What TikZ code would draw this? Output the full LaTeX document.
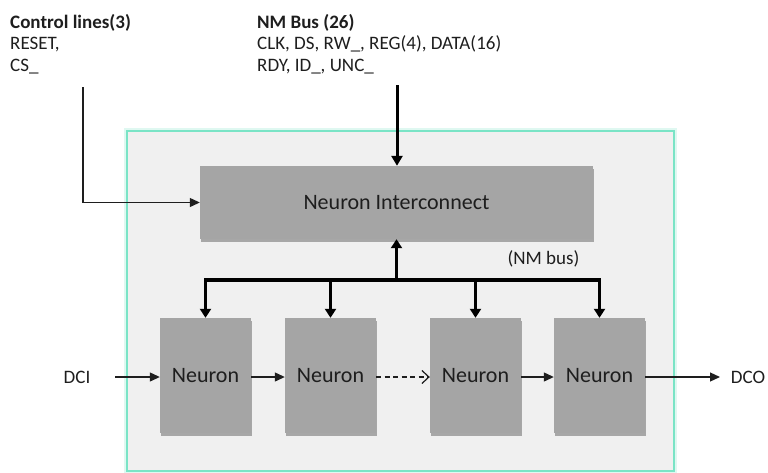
\documentclass[tikz,border=0pt]{standalone}
\usepackage{fontspec}
\setmainfont{Carlito}
\usetikzlibrary{arrows.meta,shadows,positioning}
\definecolor{panel}{RGB}{240,240,240}
\definecolor{rim}{RGB}{122,228,198}
\definecolor{block}{RGB}{165,165,165}
\definecolor{ink}{RGB}{30,30,30}
\tikzset{
  blockbox/.style={fill=block, draw=none, text=ink, inner sep=0pt,
    font=\fontsize{22}{24}\selectfont,
    drop shadow={shadow xshift=0.5pt, shadow yshift=-3pt, opacity=0.3, fill=black}},
  neuronbox/.style={blockbox, minimum width=91pt, minimum height=115pt},
  lbl/.style={text=ink, inner sep=0pt, font=\fontsize{19}{21.5}\selectfont, align=left},
  thin/.style={line width=1.2pt, draw=ink, -{Triangle[length=10pt,width=9pt]}},
  bus/.style={line width=3.5pt, draw=black},
  bushead/.style={-{Triangle[length=9pt,width=11pt]}},
}
\begin{document}
\begin{tikzpicture}[x=1pt,y=-1pt]
\useasboundingbox (0,0) rectangle (768,472);
% enclosing panel with glowing rim
\draw[rim!40, line width=6pt, opacity=0.6] (127,131) rectangle (674,471);
\draw[fill=panel, draw=rim, line width=2.5pt] (127,131) rectangle (674,471);

% blocks
\node[blockbox, minimum width=393pt, minimum height=73pt] (ni) at (396.5,202.5) {Neuron Interconnect};
\node[neuronbox] (n1) at (205.5,375.5) {Neuron};
\node[neuronbox] (n2) at (330.5,375.5) {Neuron};
\node[neuronbox] (n3) at (475.5,375.5) {Neuron};
\node[neuronbox] (n4) at (599.5,375.5) {Neuron};

% text labels
\node[lbl, anchor=north west] (ctl) at (10,14) {\textbf{Control lines(3)}\\RESET,\\CS\_};
\node[lbl, anchor=north west] (nmb) at (257,14) {\textbf{NM Bus (26)}\\CLK, DS, RW\_, REG(4), DATA(16)\\RDY, ID\_, UNC\_};
\node[lbl, anchor=center] (nmlab) at (543.5,259) {(NM bus)};
\node[lbl, anchor=center] (dci) at (77,377) {DCI};
\node[lbl, anchor=center] (dco) at (748,377) {DCO};

% external inputs
\coordinate (ctltop) at (83,87);
\coordinate (bustop) at (397,85);
\draw[thin] (ctltop) |- (ni.west);
\draw[line width=3pt, -{Triangle[length=10pt,width=11pt]}] (bustop) -- (bustop |- ni.north);

% internal NM bus
\coordinate (bc) at (ni.south |- 0,280);
\draw[bus, bushead] (bc) -- (ni.south);
\draw[bus, line cap=rect] (bc -| n1) -- (bc -| n4);
\foreach \n in {n1,n2,n3,n4}
  \draw[bus, line width=3pt, bushead] (bc -| \n) -- (\n.north);

% daisy chain
\coordinate (dciend) at (115,377);
\coordinate (dcoend) at (720,377);
\draw[thin] (dciend) -- (dciend -| n1.west);
\draw[thin] (n1.east |- dciend) -- (n2.west |- dciend);
\draw[line width=1.2pt, draw=ink, dash pattern=on 5pt off 3.5pt, -{Straight Barb[length=7pt,width=13pt]}] (n2.east |- dciend) -- (n3.west |- dciend);
\draw[thin] (n3.east |- dciend) -- (n4.west |- dciend);
\draw[thin] (n4.east |- dciend) -- (dcoend);
\end{tikzpicture}
\end{document}
